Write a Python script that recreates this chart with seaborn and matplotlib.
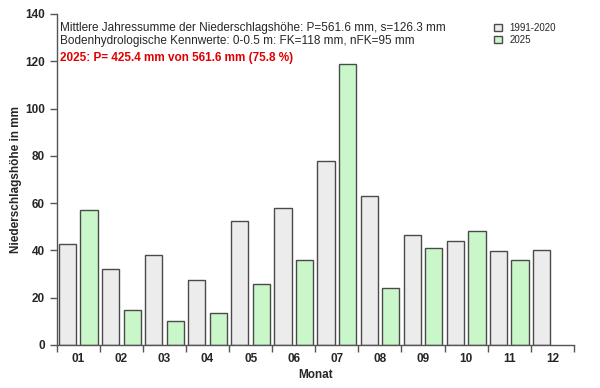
import numpy as np
import pandas as pd
import matplotlib
matplotlib.use("Agg")
import matplotlib.pyplot as plt
import seaborn as sns

# Monatssummen Niederschlag (mm)
months = ["01", "02", "03", "04", "05", "06", "07", "08", "09", "10", "11", "12"]
ref_1991_2020 = [42.9, 32.1, 38.1, 27.5, 52.5, 58.0, 77.8, 63.0, 46.5, 44.0, 39.8, 40.2]
year_2025 = [57.1, 14.8, 10.2, 13.5, 25.8, 36.0, 118.9, 24.1, 41.0, 48.2, 36.0]  # Dezember fehlt

series_names = ["1991-2020", "2025"]
colors = {"1991-2020": "#ececec", "2025": "#c2ffc2"}

info_line1 = "Mittlere Jahressumme der Niederschlagshöhe: P=561.6 mm, s=126.3 mm"
info_line2 = "Bodenhydrologische Kennwerte: 0-0.5 m: FK=118 mm, nFK=95 mm"
info_red = "2025: P= 425.4 mm von 561.6 mm (75.8 %)"

rows = []
for m, v in zip(months, ref_1991_2020):
    rows.append({"Monat": m, "mm": v, "Reihe": series_names[0]})
for m, v in zip(months, year_2025):
    rows.append({"Monat": m, "mm": v, "Reihe": series_names[1]})
df = pd.DataFrame(rows)

sns.set_style("ticks")
plt.rcParams["font.family"] = ["Liberation Sans", "DejaVu Sans"]

fig = plt.figure(figsize=(6, 3.88), dpi=100)
ax = fig.add_axes([0.0945, 0.111, 0.862, 0.853])

sns.barplot(data=df, x="Monat", y="mm", hue="Reihe", order=months,
            hue_order=series_names, palette=colors, width=1.0, gap=0.2,
            edgecolor="#4a4a4a", linewidth=1.0, errorbar=None, ax=ax)

ax.set_xlim(-0.5, 11.5)
ax.set_ylim(0, 140)
ax.set_yticks(np.arange(0, 141, 20))

# Monatsgrenzen als Striche, Beschriftung mittig
ax.set_xticks(np.arange(-0.5, 12, 1), minor=True)
ax.tick_params(axis="x", which="major", length=0, pad=6)
ax.tick_params(axis="x", which="minor", length=5, width=1, color="#555555", direction="out")
ax.tick_params(axis="y", length=5, width=1, color="#555555", direction="out")
for lab in ax.get_xticklabels() + ax.get_yticklabels():
    lab.set_fontweight("bold")
    lab.set_fontsize(8.5)

for side in ["top", "right"]:
    ax.spines[side].set_visible(False)
for side in ["left", "bottom"]:
    ax.spines[side].set_color("#555555")
    ax.spines[side].set_linewidth(1)

ax.set_xlabel("Monat", fontweight="bold", fontsize=8.5, labelpad=3)
ax.set_ylabel("Niederschlagshöhe in mm", fontweight="bold", fontsize=8.5, labelpad=2)

ax.text(0.007, 0.958, info_line1, transform=ax.transAxes, fontsize=8.5, va="center")
ax.text(0.007, 0.918, info_line2, transform=ax.transAxes, fontsize=8.5, va="center")
ax.text(0.007, 0.868, info_red, transform=ax.transAxes, fontsize=8.5, va="center",
        color="#e00000", fontweight="bold")

ax.legend(loc="upper left", bbox_to_anchor=(0.838, 0.985), frameon=False,
          fontsize=7, handlelength=0.8, handleheight=0.7, handletextpad=0.8,
          labelspacing=0.2, borderaxespad=0)

fig.savefig("out.png", dpi=100)
